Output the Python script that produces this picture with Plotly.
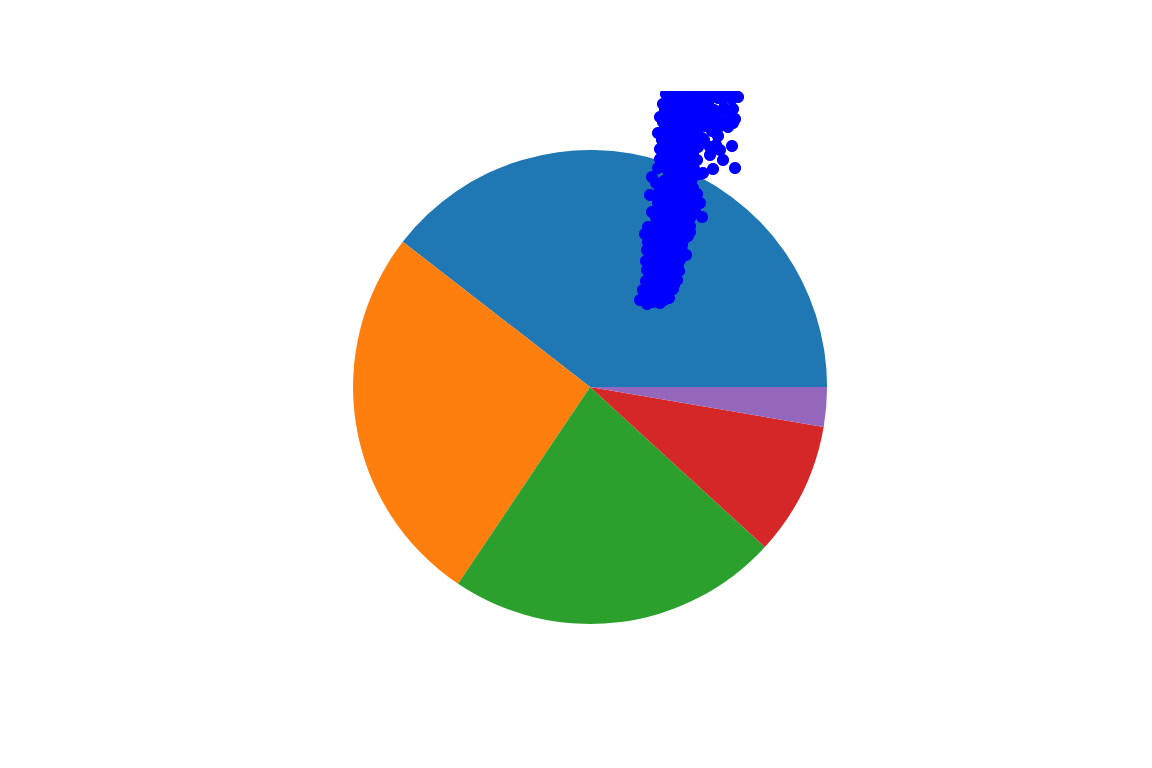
import plotly.graph_objects as go

# Pie data
pie_labels = ["A", "B", "C", "D", "E"]
pie_values = [39.5, 26.1, 22.6, 9.1, 2.7]
pie_colors = ["#1f77b4", "#ff7f0e", "#2ca02c", "#d62728", "#9467bd"]

# Scatter data
x_vals = [6.40, 6.47, 6.53, 6.60, 6.64, 6.69, 6.43, 6.51, 6.59, 6.67, 6.73,
          6.46, 6.54, 6.62, 6.70, 6.77, 6.47, 6.55, 6.63, 6.71, 6.79,
          6.46, 6.54, 6.62, 6.70, 6.80, 6.47, 6.55, 6.64, 6.73, 6.82,
          6.48, 6.56, 6.65, 6.74, 6.84, 6.88, 6.45, 6.48,
          6.56, 6.64, 6.73, 6.82, 6.90, 7.02,
          6.52, 6.61, 6.70, 6.79, 6.88, 6.95, 7.00,
          6.50, 6.59, 6.68, 6.77, 6.86, 6.97,
          6.56, 6.64, 6.73, 6.82, 6.91, 6.52, 7.00,
          6.58, 6.67, 6.76, 6.85, 6.94,
          6.60, 6.69, 6.78, 6.88, 6.97,
          7.10, 7.32, 7.23, 7.13, 7.35, 7.10,
          6.60, 6.70, 6.80, 6.90, 6.98,
          6.62, 6.71, 6.81, 6.91, 6.97, 7.12, 7.18,
          6.58, 6.65, 6.74, 6.84, 6.93, 7.05, 7.33, 7.22, 7.13,
          6.60, 6.68, 6.78, 6.88, 6.98, 7.06, 7.35, 7.33, 7.24, 7.14,
          6.63, 6.71, 6.81, 6.91, 7.00, 7.08,
          7.38, 7.28, 7.18, 6.66, 6.76, 6.86, 6.96, 7.06, 7.16, 7.26, 7.34,
          6.68, 6.90, 7.12, 7.30, 6.80, 7.20,
          6.51, 6.59, 6.66, 6.50, 6.58, 6.66, 6.74, 6.51, 6.59, 6.67, 6.75,
          6.52, 6.60, 6.69, 6.78, 6.60, 6.69, 6.78, 6.86, 6.64, 6.73, 6.82,
          6.63, 6.72, 6.81, 6.90, 6.64, 6.73, 6.82, 6.66, 6.75, 6.84, 6.92,
          6.66, 6.75, 6.85, 6.93, 6.69, 6.78, 6.87, 6.96, 7.03, 6.73, 6.83,
          6.93, 7.02, 7.18, 7.28, 7.10, 7.20, 7.30,
          6.70, 6.80, 6.90, 7.00, 7.10, 7.22, 7.32,
          6.65, 6.75, 6.85, 6.95, 7.03,
          6.63, 6.73, 6.83, 6.93, 7.01, 7.18, 7.28,
          6.68, 6.77, 6.86,
          6.65, 6.75, 6.85, 6.94,
          6.64, 6.74, 6.84, 6.93,
          6.63, 6.60, 6.58, 6.56, 6.90, 6.54, 6.52, 6.51,
          7.16, 7.20, 7.04]
y_vals = [4.68, 4.64, 4.66, 4.65, 4.68, 4.70, 4.78, 4.77, 4.78, 4.77, 4.79,
          4.87, 4.88, 4.87, 4.88, 4.88, 4.98, 4.97, 4.99, 4.98, 4.97,
          5.07, 5.08, 5.07, 5.09, 5.08, 5.18, 5.17, 5.19, 5.18, 5.17,
          5.26, 5.28, 5.27, 5.28, 5.29, 5.32, 5.34, 5.41,
          5.43, 5.42, 5.44, 5.43, 5.42, 5.51,
          5.56, 5.58, 5.57, 5.59, 5.58, 5.57, 5.65,
          5.73, 5.72, 5.74, 5.73, 5.72, 5.74,
          5.85, 5.87, 5.86, 5.85, 5.87, 5.91, 5.94,
          6.00, 5.99, 6.01, 6.00, 5.99,
          6.09, 6.10, 6.08, 6.10, 6.08,
          6.21, 6.22, 6.08, 5.99, 6.00, 6.13,
          6.19, 6.20, 6.18, 6.20, 6.21,
          6.28, 6.29, 6.30, 6.28, 6.35, 6.37, 6.32,
          6.35, 6.40, 6.39, 6.41, 6.40, 6.42, 6.45, 6.47, 6.48,
          6.51, 6.52, 6.51, 6.52, 6.53, 6.54, 6.49, 6.59, 6.60, 6.58,
          6.64, 6.63, 6.65, 6.64, 6.62, 6.65,
          6.71, 6.72, 6.70, 6.74, 6.75, 6.73, 6.74, 6.75, 6.76, 6.76, 6.75,
          6.83, 6.84, 6.83, 6.82, 6.92, 6.93,
          4.72, 4.72, 4.73, 4.83, 4.82, 4.83, 4.83, 4.93, 4.92, 4.93, 4.93,
          5.03, 5.02, 5.03, 5.03, 5.13, 5.12, 5.13, 5.13, 5.23, 5.22, 5.23,
          5.36, 5.35, 5.36, 5.36, 5.50, 5.50, 5.51, 5.65, 5.65, 5.66, 5.66,
          5.79, 5.80, 5.79, 5.80, 5.93, 5.93, 5.94, 5.93, 5.95, 6.05, 6.04,
          6.05, 6.30, 6.40, 6.41, 6.55, 6.54, 6.56,
          6.69, 6.69, 6.69, 6.69, 6.69, 6.69, 6.69,
          6.58, 6.58, 6.58, 6.58, 6.58,
          6.46, 6.46, 6.46, 6.46, 6.46, 6.46, 6.46,
          6.34, 6.34, 6.34,
          6.24, 6.24, 6.24, 6.24,
          6.15, 6.15, 6.15, 6.15,
          6.05, 5.79, 5.65, 5.50, 5.50, 5.36, 5.23, 5.13,
          6.23, 6.18, 6.28]

fig = go.Figure()

# first slice starts at 3 o'clock and runs counterclockwise
start_rotation = 90 - 360 * pie_values[0] / sum(pie_values)

fig.add_trace(go.Pie(
    labels=pie_labels,
    values=pie_values,
    marker=dict(colors=pie_colors, line=dict(width=0)),
    sort=False,
    direction="counterclockwise",
    rotation=start_rotation,
    textinfo="none",
    hoverinfo="label+percent",
    domain=dict(x=[0.25, 0.7744], y=[0.2127, 0.9129]),
    showlegend=False,
))

fig.add_trace(go.Scattergl(
    x=x_vals,
    y=y_vals,
    mode="markers",
    marker=dict(color="blue", size=12),
    showlegend=False,
))

fig.update_layout(
    width=1152,
    height=768,
    margin=dict(l=0, r=0, t=91, b=0),
    paper_bgcolor="white",
    plot_bgcolor="rgba(0,0,0,0)",
    xaxis=dict(range=[0, 11.52], visible=False),
    yaxis=dict(range=[0, 6.77], visible=False),
    showlegend=False,
)

fig.write_html("out.html")
